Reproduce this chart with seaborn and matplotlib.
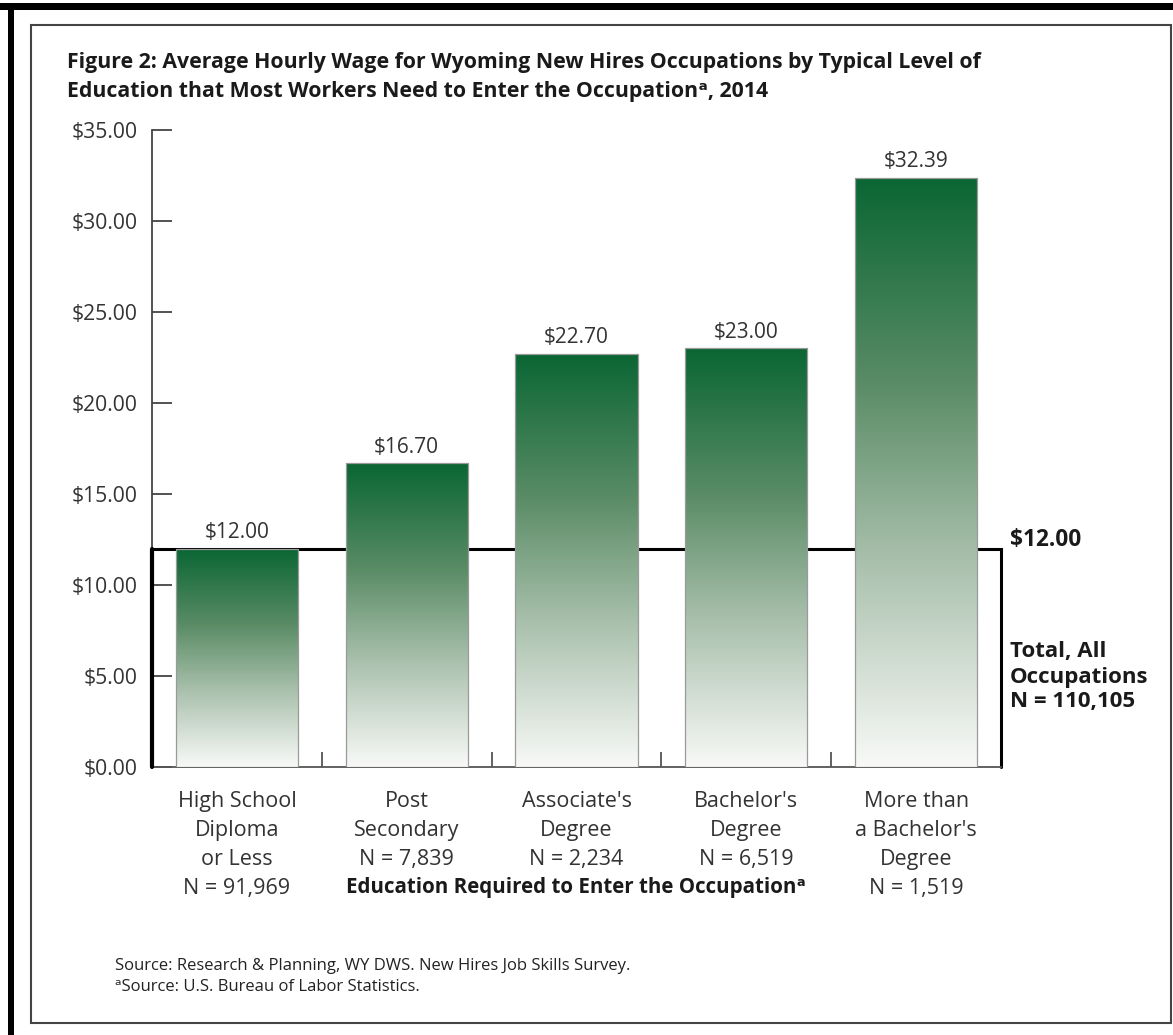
import numpy as np
import matplotlib
matplotlib.use("Agg")
import matplotlib.pyplot as plt
from matplotlib.patches import Rectangle
from matplotlib.colors import LinearSegmentedColormap
import seaborn as sns

# ---- data ----
categories = ["High School\nDiploma\nor Less\nN = 91,969",
              "Post\nSecondary\nN = 7,839",
              "Associate's\nDegree\nN = 2,234",
              "Bachelor's\nDegree\nN = 6,519",
              "More than\na Bachelor's\nDegree\nN = 1,519"]
wages = [12.00, 16.70, 22.70, 23.00, 32.39]
value_labels = ["$12.00", "$16.70", "$22.70", "$23.00", "$32.39"]
overall_wage = 12.00
overall_labels = ["$12.00", "Total, All\nOccupations\nN = 110,105"]
yticks = [0, 5, 10, 15, 20, 25, 30, 35]
title_lines = ["Figure 2: Average Hourly Wage for Wyoming New Hires Occupations by Typical Level of",
               "Education that Most Workers Need to Enter the Occupation\u1d43, 2014"]
xlabel = "Education Required to Enter the Occupation\u1d43"
sources = ["Source: Research & Planning, WY DWS. New Hires Job Skills Survey.",
           "\u1d43Source: U.S. Bureau of Labor Statistics."]

sns.set_theme(style="white")
FONT = ["Open Sans", "DejaVu Sans"]
plt.rcParams["font.family"] = FONT

W, H = 1173, 1035
fig = plt.figure(figsize=(W / 100, H / 100), dpi=100)

def fx(px): return px / W
def fy(py): return 1 - py / H

# frames
fig.patches.append(Rectangle((0, fy(10)), 1, 7 / H, transform=fig.transFigure,
                             facecolor="black", edgecolor="none", zorder=0))
fig.patches.append(Rectangle((fx(8), 0), 6 / W, fy(10), transform=fig.transFigure,
                             facecolor="black", edgecolor="none", zorder=0))
fig.patches.append(Rectangle((fx(31), fy(1023)), (1171 - 31) / W, (1023 - 25) / H,
                             transform=fig.transFigure, facecolor="none",
                             edgecolor="#444444", linewidth=1.5, zorder=0))

ax = fig.add_axes([fx(152), fy(767), (1001 - 152) / W, (767 - 130) / H])
ax.set_facecolor("none")

df = {"cat": categories, "wage": wages}
sns.barplot(x="cat", y="wage", data=df, color="#0b6636", width=0.72, ax=ax,
            saturation=1, zorder=3)

cmap = LinearSegmentedColormap.from_list(
    "g", [(0.0, "#f8f9f7"), (0.35, "#a9c0ac"), (0.65, "#5a8c66"), (1.0, "#0a6634")])
grad = np.linspace(0, 1, 256).reshape(-1, 1)
for p in ax.patches:
    x0, y0 = p.get_x(), p.get_y()
    w, h = p.get_width(), p.get_height()
    im = ax.imshow(grad, cmap=cmap, origin="lower", aspect="auto",
                   extent=[x0, x0 + w, y0, y0 + h], zorder=3)
    im.set_clip_path(p)
    p.set_facecolor("none")
    p.set_edgecolor("#9a9a9a")
    p.set_linewidth(0.9)
    p.set_zorder(4)
ax.set_xlim(-0.5, 4.5)
ax.set_ylim(0, 35)

# value labels
for i, (v, lab) in enumerate(zip(wages, value_labels)):
    ax.annotate(lab, (i, v), xytext=(0, 4), textcoords="offset points",
                ha="center", va="bottom", fontsize=15, color="#333333")

# overall box
ax.plot([-0.5, 4.5, 4.5], [overall_wage, overall_wage, 0], color="black",
        lw=2.2, zorder=2, clip_on=False, solid_joinstyle="miter")
ax.plot([-0.5, -0.5], [0, overall_wage], color="black", lw=3, zorder=5,
        clip_on=False)

# spines
for s in ["top", "right"]:
    ax.spines[s].set_visible(False)
ax.spines["left"].set_color("#444444")
ax.spines["left"].set_linewidth(1.3)
ax.spines["bottom"].set_color("#555555")
ax.spines["bottom"].set_linewidth(1.3)

ax.set_yticks(yticks)
ax.set_yticklabels([f"${v:.2f}" for v in yticks])
ax.tick_params(axis="y", direction="in", length=14.5, width=1.3, color="#444444",
               pad=10, labelsize=15.2, labelcolor="#333333", left=True)
ax.set_xticks(range(len(categories)))
ax.set_xticklabels(categories)
ax.tick_params(axis="x", which="major", length=0, pad=17, labelsize=15.5,
               labelcolor="#333333")
for t in ax.get_xticklabels():
    t.set_linespacing(1.5)
ax.set_xticks([0.5, 1.5, 2.5, 3.5], minor=True)
ax.tick_params(axis="x", which="minor", direction="in", length=11, width=1.3,
               color="#555555", bottom=True)
ax.set_xlabel("")
ax.set_ylabel("")

# right annotation
fig.text(fx(1010), fy(540), overall_labels[0], ha="left", va="center",
         fontsize=16.3, fontweight="bold", color="#1a1a1a")
fig.text(fx(1010), fy(677), overall_labels[1], ha="left", va="center",
         fontsize=16, fontweight="bold", color="#1a1a1a", linespacing=1.25)

# title
fig.text(fx(67), fy(68), title_lines[0], ha="left", va="baseline",
         fontsize=15.3, fontweight="bold", color="#1a1a1a")
fig.text(fx(67), fy(97), title_lines[1], ha="left", va="baseline",
         fontsize=15.3, fontweight="bold", color="#1a1a1a")

# x label
fig.text(fx(576), fy(893), xlabel, ha="center", va="baseline",
         fontsize=14.8, fontweight="bold", color="#1a1a1a")

# sources
fig.text(fx(115), fy(966), sources[0], ha="left", va="center",
         fontsize=12, color="#222222")
fig.text(fx(115), fy(987), sources[1], ha="left", va="center",
         fontsize=12, color="#222222")

fig.savefig("out.png", dpi=100)
